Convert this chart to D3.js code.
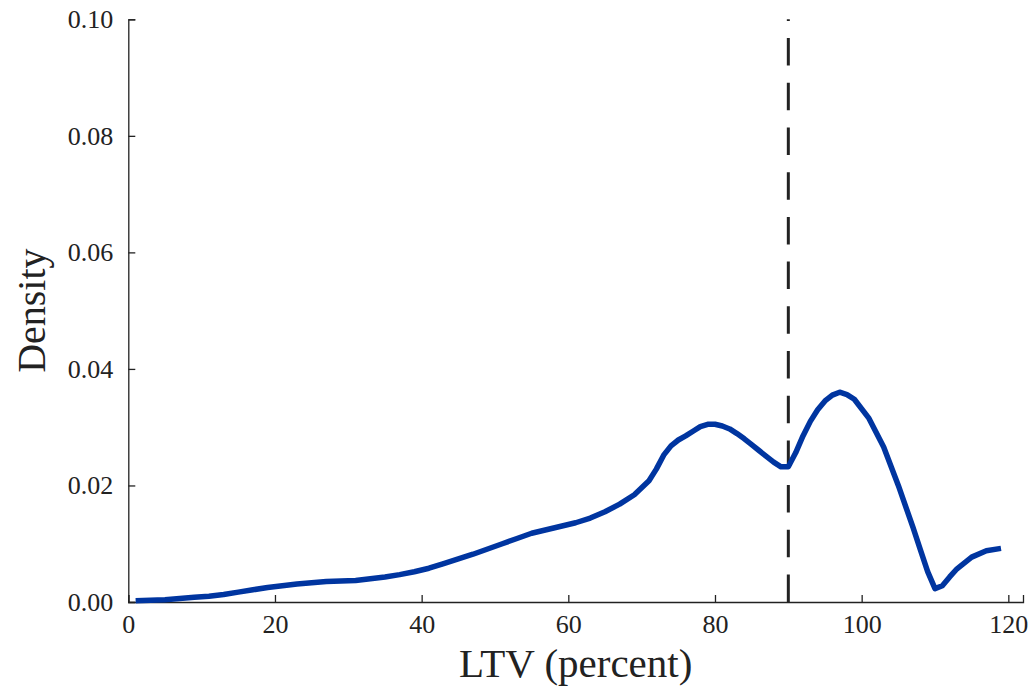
<!DOCTYPE html>
<html>
<head>
<meta charset="utf-8">
<script src="https://cdn.jsdelivr.net/npm/d3@7"></script>
<style>
  html, body { margin: 0; padding: 0; background: #fff; }
  svg { display: block; }
  text { font-family: "Liberation Serif", "DejaVu Serif", serif; fill: #222; }
</style>
</head>
<body>
<svg id="chart" width="1032" height="686"></svg>
<script>
// Kernel density of loan-to-value ratios (percent)
const ltv = [1, 3, 5, 7, 9, 11, 13, 15, 17, 19, 21, 23, 25, 27, 29, 31, 33, 35, 37, 39,
  41, 43, 45, 47, 49, 51, 53, 55, 57, 59, 61, 63, 65, 67, 69, 70, 71, 72, 73, 74,
  75, 76, 77, 78, 79, 80, 81, 82, 83, 84, 85, 86, 87, 88, 89, 90, 91, 92, 93, 94,
  95, 96, 97, 98, 99, 101, 103, 105, 107, 108, 109, 110, 111, 112, 113, 115, 117, 119];
const density = [0.0002, 0.0003, 0.0004, 0.0006, 0.0008, 0.0010, 0.0013, 0.0017, 0.0021, 0.0025,
  0.0028, 0.0031, 0.0033, 0.0035, 0.0036, 0.0037, 0.0040, 0.0043, 0.0047, 0.0052,
  0.0058, 0.0066, 0.0074, 0.0082, 0.0091, 0.0100, 0.0109, 0.0118, 0.0124, 0.0130,
  0.0136, 0.0144, 0.0155, 0.0168, 0.0184, 0.0196, 0.0208, 0.0228, 0.0252, 0.0268,
  0.0278, 0.0285, 0.0293, 0.0301, 0.0305, 0.0305, 0.0302, 0.0297, 0.0289, 0.0280,
  0.0270, 0.0260, 0.0250, 0.0240, 0.0232, 0.0232, 0.0256, 0.0285, 0.0310, 0.0330,
  0.0345, 0.0355, 0.0360, 0.0356, 0.0348, 0.0315, 0.0266, 0.0200, 0.0128, 0.0090,
  0.0052, 0.0023, 0.0028, 0.0043, 0.0057, 0.0077, 0.0088, 0.0092];
const xTicks = [0, 20, 40, 60, 80, 100, 120];
const yTicks = [0, 0.02, 0.04, 0.06, 0.08, 0.10];
const threshold = 90;
const xDomain = [0, 122];
const yDomain = [0, 0.10];

const svg = d3.select("#chart");
const x = d3.scaleLinear().domain(xDomain).range([128.3, 1023]);
const y = d3.scaleLinear().domain(yDomain).range([602, 19.3]);

const axisColor = "#222";

// x axis with inward ticks
const gx = svg.append("g").attr("transform", `translate(0,${y(0)})`)
  .call(d3.axisBottom(x).tickValues(xTicks).tickSize(-7).tickPadding(31).tickFormat(d3.format("d")));
gx.select(".domain").attr("stroke", axisColor).attr("stroke-width", 1.3);
gx.selectAll(".tick line").attr("stroke", axisColor).attr("stroke-width", 1.3);
gx.selectAll(".tick text").attr("font-size", 26).attr("fill", axisColor)
  .attr("font-family", "Liberation Serif, serif").attr("dy", "0");

// y axis with inward ticks
const gy = svg.append("g").attr("transform", `translate(${x(0)},0)`)
  .call(d3.axisLeft(y).tickValues(yTicks).tickSize(-7).tickPadding(15).tickFormat(d3.format(".2f")));
gy.select(".domain").attr("stroke", axisColor).attr("stroke-width", 1.3);
gy.selectAll(".tick line").attr("stroke", axisColor).attr("stroke-width", 1.3);
gy.selectAll(".tick text").attr("font-size", 26).attr("fill", axisColor)
  .attr("font-family", "Liberation Serif, serif");

// vertical dashed reference line at the LTV threshold
svg.append("line")
  .attr("x1", x(threshold)).attr("x2", x(threshold))
  .attr("y1", y(yDomain[0])).attr("y2", y(yDomain[1]))
  .attr("stroke", "#222").attr("stroke-width", 3)
  .attr("stroke-dasharray", "27.5,17.2");

// density curve
const pts = ltv.map((v, i) => [v, density[i]]);
svg.append("path")
  .datum(pts)
  .attr("fill", "none")
  .attr("stroke", "#0035a0")
  .attr("stroke-width", 5.5)
  .attr("stroke-linejoin", "round")
  .attr("stroke-linecap", "butt")
  .attr("d", d3.line().x(d => x(d[0])).y(d => y(d[1])));

// axis titles
svg.append("text")
  .attr("x", x((xDomain[0] + xDomain[1]) / 2)).attr("y", 677)
  .attr("text-anchor", "middle").attr("font-size", 41)
  .text("LTV (percent)");

svg.append("text")
  .attr("transform", `translate(45,${(y(0) + y(0.1)) / 2})rotate(-90)`)
  .attr("text-anchor", "middle").attr("font-size", 40)
  .text("Density");
</script>
</body>
</html>
